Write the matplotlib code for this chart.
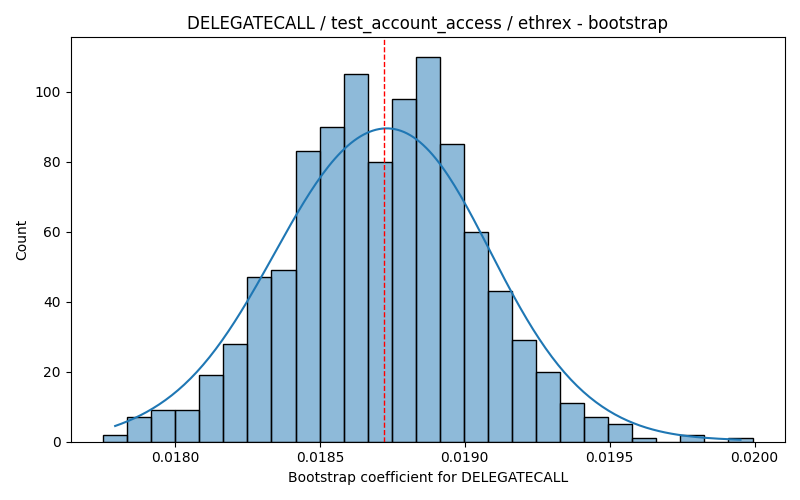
import numpy as np
import pandas as pd
import matplotlib
matplotlib.use("Agg")
import matplotlib.pyplot as plt
import seaborn as sns

# bin counts (1000 bootstrap samples)
counts = [2, 7, 9, 9, 19, 28, 47, 49, 83, 90, 105, 80, 98, 110, 85,
          60, 43, 29, 20, 11, 7, 5, 1, 0, 2, 0, 1]
bin_start = 0.017752
bin_width = 0.0000830
mean_coef = 0.01872

edges = bin_start + bin_width * np.arange(len(counts) + 1)
centers = (edges[:-1] + edges[1:]) / 2
df = pd.DataFrame({"coef": centers, "w": counts})

fig, ax = plt.subplots(figsize=(8, 5), dpi=100)
sns.histplot(data=df, x="coef", weights="w", bins=len(counts),
             binrange=(edges[0], edges[-1]), kde=True, ax=ax,
             kde_kws={"bw_adjust": 0.9})
ax.axvline(mean_coef, color="red", linestyle="--", linewidth=1)
ax.set_title("DELEGATECALL / test_account_access / ethrex - bootstrap")
ax.set_xlabel("Bootstrap coefficient for DELEGATECALL")
ax.set_ylabel("Count")
plt.tight_layout()
plt.savefig("out.png")
